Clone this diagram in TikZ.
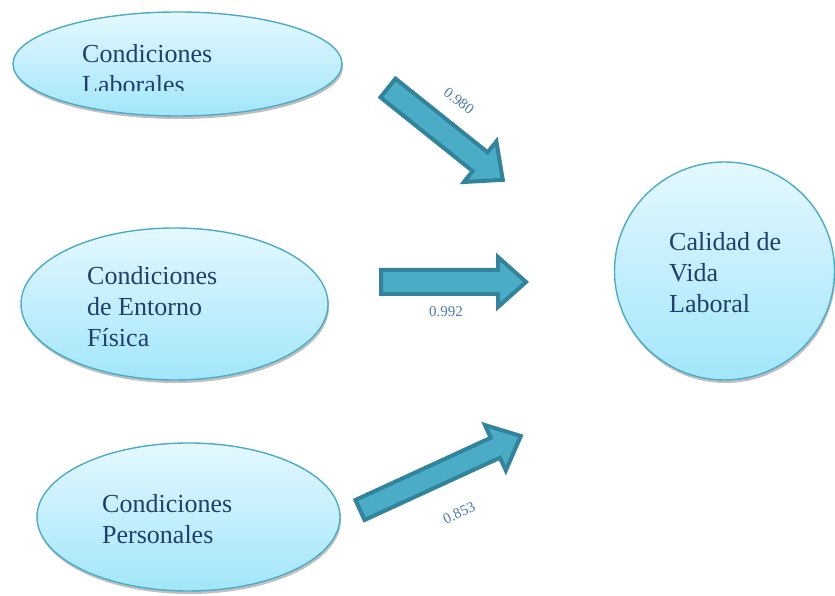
\documentclass[tikz,border=0pt]{standalone}
\usepackage{fontspec}
\setmainfont{Liberation Serif}
\usetikzlibrary{shadows,shapes.geometric}
\definecolor{edgeblue}{HTML}{4BACC6}
\definecolor{topfill}{HTML}{E4F8FE}
\definecolor{botfill}{HTML}{A2E6FA}
\definecolor{txtblue}{HTML}{1F3F6E}
\definecolor{lblblue}{HTML}{4A78C2}
\definecolor{arrfill}{HTML}{4BACC6}
\definecolor{arredge}{HTML}{31849B}
\tikzset{
  bubble/.style={ellipse, draw=edgeblue, line width=1.4pt, top color=topfill, bottom color=botfill, inner sep=0pt,
    drop shadow={shadow xshift=1pt, shadow yshift=-3pt, fill=black, opacity=0.25}},
  bubbletext/.style={anchor=base west, align=left, text=txtblue, font=\fontsize{26}{31}\selectfont, inner sep=0pt},
  blockarrow/.style={fill=arrfill, draw=arredge, line width=4pt, line join=miter},
  wlabel/.style={text=lblblue, font=\fontsize{15}{17}\selectfont, inner sep=0pt}
}
\begin{document}
\begin{tikzpicture}[x=1pt,y=1pt]
\useasboundingbox (0,0) rectangle (835,596);
% ellipses
\node[bubble, minimum width=329pt, minimum height=104pt] (e1) at (177.5,532) {};
\node[bubble, minimum width=307pt, minimum height=152pt] (e2) at (174.5,292) {};
\node[bubble, minimum width=303pt, minimum height=148pt] (e3) at (188.5,79) {};
\node[bubble, minimum width=220pt, minimum height=218pt] (e4) at (724.5,325) {};
% texts (anchor = baseline of last line)
\begin{scope}
\clip (0,505) rectangle (835,596);
\node[bubbletext] (t1) at (82,502) {Condiciones\\Laborales};
\end{scope}
\node[bubbletext] (t2) at (87,249) {Condiciones\\de Entorno\\Física};
\node[bubbletext] (t3) at (102,52) {Condiciones\\Personales};
\node[bubbletext] (t4) at (669,283) {Calidad de\\Vida\\Laboral};
% arrows
\begin{scope}[shift={(388,508)}, rotate=-38.66]
\draw[blockarrow] (0,-12) -- (118,-12) -- (118,-26) -- (147,0) -- (118,26) -- (118,12) -- (0,12) -- cycle;
\end{scope}
\begin{scope}[shift={(381,314)}]
\draw[blockarrow] (0,-12) -- (117,-12) -- (117,-25) -- (145,0) -- (117,25) -- (117,12) -- (0,12) -- cycle;
\end{scope}
\begin{scope}[shift={(360,86)}, rotate=24.7]
\draw[blockarrow] (0,-11) -- (149,-11) -- (149,-25) -- (177,0) -- (149,25) -- (149,11) -- (0,11) -- cycle;
\end{scope}
% labels
\node[wlabel, rotate=-38] (l1) at (459,495) {0.980};
\node[wlabel] (l2) at (446,284) {0.992};
\node[wlabel, rotate=25] (l3) at (459,83) {0.853};
\end{tikzpicture}
\end{document}
